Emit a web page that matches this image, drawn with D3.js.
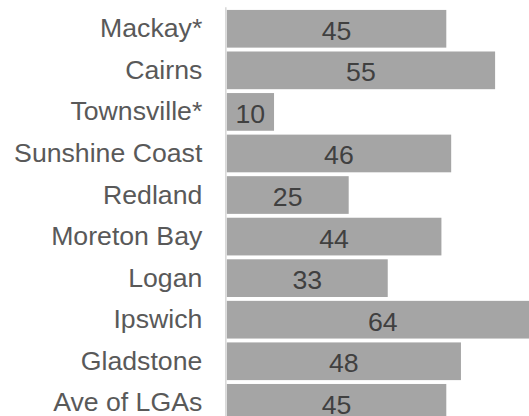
<!DOCTYPE html>
<html>
<head>
<meta charset="utf-8">
<script src="https://cdn.jsdelivr.net/npm/d3@7"></script>
<style>
html,body{margin:0;padding:0;background:#fff;overflow:hidden;}
svg{display:block;}
</style>
</head>
<body>
<script>
const categories = ["Mackay*","Cairns","Townsville*","Sunshine Coast","Redland","Moreton Bay","Logan","Ipswich","Gladstone","Ave of LGAs"];
const values = [45, 55, 9.7, 46, 25, 44, 33, 64, 48, 45];
const valueLabels = ["45","55","10","46","25","44","33","64","48","45"];

const W = 529, H = 416;
const svg = d3.select("body").append("svg").attr("width", W).attr("height", H);

const x = d3.scaleLinear().domain([0, 70]).range([226.7, 226.7 + 70 * 4.88]);
const y = d3.scaleBand().domain(categories).range([8, 8 + 41.56 * 10]).paddingInner(0.093).paddingOuter(0.0465);

const font = "'Liberation Sans', Arial, sans-serif";
const fs = 26.67;

svg.selectAll("rect.bar").data(categories).join("rect")
  .attr("class","bar")
  .attr("x", x(0))
  .attr("y", d => y(d))
  .attr("width", (d,i) => x(values[i]) - x(0))
  .attr("height", y.bandwidth())
  .attr("fill", "#a5a5a5");

// axis line
const axis = d3.axisLeft(y).tickSize(0).tickPadding(23.5);
const g = svg.append("g").attr("transform", `translate(${x(0) - 0.9},0)`).call(axis);
g.select(".domain").attr("stroke", "#d9d9d9").attr("stroke-width", 1.6).attr("d", `M0,7.3V${H}`);
g.selectAll(".tick text")
  .attr("font-family", font)
  .attr("font-size", fs)
  .attr("fill", "#595959")
  .attr("dy", null)
  .attr("y", 8.5)
  .attr("dominant-baseline", "auto");

svg.selectAll("text.val").data(categories).join("text")
  .attr("class","val")
  .attr("x", (d,i) => (x(0) + x(values[i])) / 2)
  .attr("y", d => y(d) + y.bandwidth() / 2 + 11)
  .attr("text-anchor", "middle")
  .attr("font-family", font)
  .attr("font-size", fs)
  .attr("fill", "#404040")
  .text((d,i) => valueLabels[i]);
</script>
</body>
</html>
